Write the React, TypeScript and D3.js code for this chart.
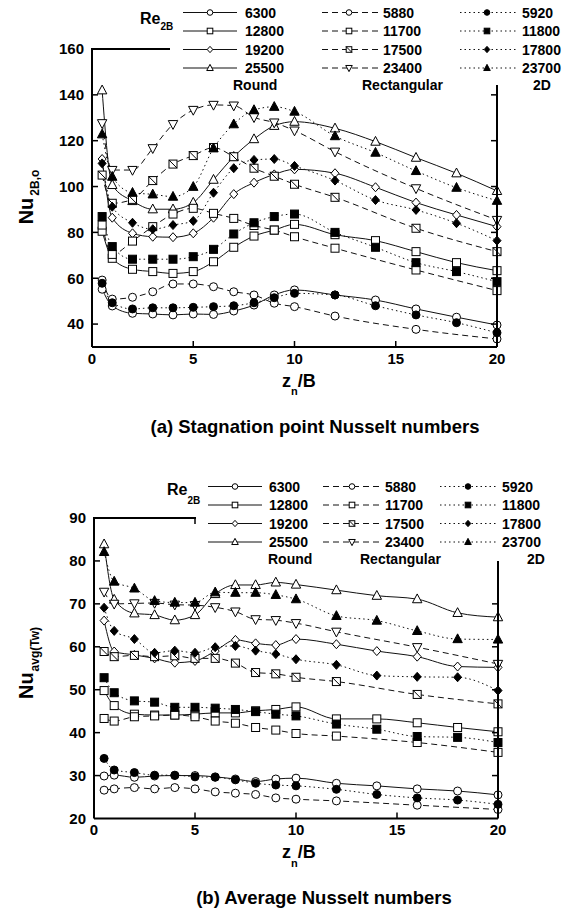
import React from 'react';
import * as d3 from 'd3';

const FONT = "'Liberation Sans', Arial, Helvetica, sans-serif";

// x positions of measurements (z_n/B)
const xRound = [0.5, 1, 2, 3, 4, 5, 6, 7, 8, 9, 10, 12, 14, 16, 18, 20];
const xRect = [0.5, 1, 2, 3, 4, 5, 6, 7, 8, 9, 10, 12, 16, 20];
const x2D = [0.5, 1, 2, 3, 4, 5, 6, 7, 8, 9, 10, 12, 14, 16, 18, 20];

// Legend labels
const roundRe = ['6300', '12800', '19200', '25500'];
const rectRe = ['5880', '11700', '17500', '23400'];
const twoDRe = ['5920', '11800', '17800', '23700'];

// (a) Stagnation point Nusselt numbers
const a_round6300 = [55.2, 47.9, 44.7, 44.4, 44.0, 44.4, 44.2, 45.7, 48.3, 52.7, 54.9, 52.7, 50.5, 46.6, 43.0, 39.6];
const a_round12800 = [80.5, 68.7, 63.9, 62.9, 62.1, 62.9, 67.2, 73.5, 78.4, 81.0, 83.5, 79.0, 76.4, 71.6, 66.8, 63.3];
const a_round19200 = [112, 86.4, 79.6, 78.1, 77.9, 79.6, 86.4, 96.7, 101.7, 105.3, 107.5, 105.8, 99.7, 93.0, 87.6, 82.5];
const a_round25500 = [142, 100.7, 93.7, 90.1, 90.1, 93, 103, 113, 120.7, 126.5, 128.3, 125.4, 119.6, 112.6, 105.8, 98.1];
const a_rect5880 = [59.2, 50.9, 51.7, 54.1, 57.5, 57.5, 56.3, 54.1, 52.7, 49.1, 47.6, 43.5, 37.7, 33.5];
const a_rect11700 = [83.2, 70.4, 76.2, 82.5, 88.0, 90.5, 88.3, 86.1, 83.0, 81.0, 78.1, 73.1, 63.6, 54.6];
const a_rect17500 = [105, 92.7, 94.4, 102.6, 109.8, 113.5, 117, 113, 108, 104.5, 101, 95.3, 81.8, 71.6];
const a_rect23400 = [127.6, 107.2, 107.2, 116.7, 127.2, 133.4, 135.6, 135.3, 130.2, 127.9, 124.4, 115.2, 99.2, 85.4];
const a_2d5920 = [57.8, 49.3, 46.6, 47.1, 47.1, 47.3, 47.6, 48.0, 49.3, 51.5, 53.4, 52.7, 48.0, 44.0, 40.6, 36.2];
const a_2d11800 = [86.9, 73.8, 68.3, 68.3, 68.3, 69.4, 72.6, 79.3, 84.2, 86.9, 88.0, 80.0, 73.5, 66.8, 62.9, 58.5];
const a_2d17800 = [110.1, 91.2, 84.2, 81.4, 83.2, 85.0, 97.3, 108, 111.6, 112, 109, 102.6, 94.1, 89.8, 84.0, 76.4];
const a_2d23700 = [122.8, 104.3, 97.3, 96.6, 95.6, 99.9, 116.7, 127.2, 133.4, 134.8, 132.7, 122, 114.8, 106.8, 99.5, 93.8];

// (b) Average Nusselt numbers
const b_round6300 = [29.9, 30.1, 29.6, 29.9, 30.0, 30.0, 29.7, 29.2, 28.6, 29.2, 29.4, 28.2, 27.6, 26.9, 26.4, 25.5];
const b_round12800 = [49.8, 46.3, 44.3, 44.1, 44.1, 44.3, 44.6, 44.6, 45.1, 45.4, 46.0, 43.2, 43.2, 42.3, 41.2, 40.2];
const b_round19200 = [66.1, 58.9, 58.1, 57.3, 56.3, 56.7, 59.0, 61.6, 60.8, 60.4, 61.8, 60.6, 59.0, 57.7, 55.4, 55.2];
const b_round25500 = [83.9, 71.0, 67.8, 67.4, 66.2, 67.4, 72.3, 74.4, 74.4, 75.0, 74.5, 73.2, 71.9, 71.1, 67.9, 66.9];
const b_rect5880 = [26.6, 26.9, 27.2, 26.9, 27.2, 26.9, 26.2, 25.9, 25.6, 24.8, 24.5, 24.1, 23.1, 22.1];
const b_rect11700 = [43.3, 42.7, 43.7, 43.9, 44.1, 43.7, 42.7, 42.2, 41.2, 40.6, 39.8, 39.2, 37.7, 35.4];
const b_rect17500 = [58.9, 57.7, 58.0, 57.7, 57.9, 57.3, 57.3, 56.2, 54.0, 53.7, 52.9, 51.9, 48.9, 46.7];
const b_rect23400 = [72.8, 70.0, 70.1, 70.2, 69.8, 69.7, 69.2, 68.2, 66.4, 66.2, 65.5, 63.5, 59.9, 56.0];
const b_2d5920 = [34.0, 31.3, 30.7, 30.1, 30.1, 29.7, 29.6, 29.0, 28.2, 27.8, 27.6, 26.8, 25.6, 24.8, 24.3, 23.3];
const b_2d11800 = [52.8, 49.3, 47.4, 47.1, 45.9, 45.9, 45.7, 45.4, 44.9, 44.3, 43.9, 42.0, 40.8, 39.1, 38.9, 37.7];
const b_2d17800 = [69.1, 63.7, 61.8, 58.6, 59.1, 58.6, 59.9, 60.2, 59.1, 58.3, 57.1, 55.8, 53.3, 53.0, 52.9, 49.8];
const b_2d23700 = [82.1, 75.2, 73.6, 70.7, 70.3, 70.3, 72.7, 72.6, 72.6, 72.1, 71.1, 67.2, 66.1, 63.7, 61.8, 61.7];

const aTicksY = [40, 60, 80, 100, 120, 140, 160];
const bTicksY = [20, 30, 40, 50, 60, 70, 80, 90];
const ticksX = [0, 5, 10, 15, 20];

const roundMarks = ['circle', 'square', 'diamond', 'triUp'];
const rectMarks = ['circle', 'square', 'squareX', 'triDown'];
const twoDMarks = ['circle', 'square', 'diamond', 'triUp'];

type Series = { xs: number[]; vals: number[]; style: string; mark: string; filled: boolean };

function buildSeries(round: number[][], rect: number[][], twoD: number[][]): Series[] {
  const out: Series[] = [];
  round.forEach((v, i) => out.push({ xs: xRound, vals: v, style: 'solid', mark: roundMarks[i], filled: false }));
  rect.forEach((v, i) => out.push({ xs: xRect, vals: v, style: 'dashed', mark: rectMarks[i], filled: false }));
  twoD.forEach((v, i) => out.push({ xs: x2D, vals: v, style: 'dotted', mark: twoDMarks[i], filled: true }));
  return out;
}

function Mark({ x, y, m, filled, s = 1 }: any) {
  const c = { fill: filled ? '#000' : '#fff', stroke: '#000', strokeWidth: 1 };
  switch (m) {
    case 'circle':
      return <circle cx={x} cy={y} r={4 * s} {...c} />;
    case 'square':
      return <rect x={x - 4 * s} y={y - 4 * s} width={8 * s} height={8 * s} {...c} />;
    case 'squareX':
      return (
        <g>
          <rect x={x - 4 * s} y={y - 4 * s} width={8 * s} height={8 * s} {...c} />
          <line x1={x - 4 * s} y1={y - 4 * s} x2={x + 4 * s} y2={y + 4 * s} stroke="#000" strokeWidth={1} />
        </g>
      );
    case 'diamond':
      return <path d={`M${x},${y - 4.5 * s}L${x + 4 * s},${y}L${x},${y + 4.5 * s}L${x - 4 * s},${y}Z`} {...c} />;
    case 'triUp':
      return <path d={`M${x},${y - 5.2 * s}L${x + 4.7 * s},${y + 3.6 * s}L${x - 4.7 * s},${y + 3.6 * s}Z`} {...c} />;
    case 'triDown':
      return <path d={`M${x},${y + 5.2 * s}L${x + 4.7 * s},${y - 3.6 * s}L${x - 4.7 * s},${y - 3.6 * s}Z`} {...c} />;
  }
  return null;
}

const dashOf = (st: string) => (st === 'dashed' ? '6,4' : st === 'dotted' ? '1.5,3' : undefined);

function Panel(p: any) {
  const x = d3.scaleLinear().domain([0, 20]).range(p.xr);
  const y = d3.scaleLinear().domain(p.yd).range(p.yr);
  const [X0, X1] = p.xr;
  const [Y0, YT] = p.yr;
  const line = d3
    .line<number[]>()
    .x((d) => x(d[0]))
    .y((d) => y(d[1]))
    .curve(d3.curveMonotoneX);
  const series: Series[] = p.series;
  const tickLen = 6;
  const lg = p.legend;
  const groups = [roundRe, rectRe, twoDRe];
  const styles = ['solid', 'dashed', 'dotted'];
  const marks = [roundMarks, rectMarks, twoDMarks];
  return (
    <g fontFamily={FONT} fontWeight="bold">
      {series.map((s, i) => (
        <path
          key={'l' + i}
          d={line(s.xs.map((xx, j) => [xx, s.vals[j]])) || ''}
          fill="none"
          stroke="#111"
          strokeWidth={1}
          strokeDasharray={dashOf(s.style)}
        />
      ))}
      {series.map((s, i) =>
        s.xs.map((xx, j) => <Mark key={'m' + i + '_' + j} x={x(xx)} y={y(s.vals[j])} m={s.mark} filled={s.filled} />)
      )}
      <line x1={X0} y1={Y0} x2={X1} y2={Y0} stroke="#000" strokeWidth={2} />
      <line x1={X0} y1={Y0} x2={X0} y2={YT} stroke="#000" strokeWidth={2} />
      <line x1={X0 - 1} y1={YT} x2={p.topEnd} y2={YT} stroke="#000" strokeWidth={2} />
      <line x1={X1} y1={Y0} x2={X1} y2={p.rightTop} stroke="#000" strokeWidth={2} />
      {p.yTicks.map((t: number) => (
        <g key={'yt' + t}>
          {y(t) < Y0 - 1 && y(t) > YT + 1 && (
            <line x1={X0} x2={X0 + tickLen} y1={y(t)} y2={y(t)} stroke="#000" strokeWidth={1.5} />
          )}
          {y(t) < Y0 - 1 && y(t) >= p.rightTop && (
            <line x1={X1} x2={X1 - tickLen} y1={y(t)} y2={y(t)} stroke="#000" strokeWidth={1.5} />
          )}
          <text x={X0 - 8} y={y(t) + 5.3} textAnchor="end" fontSize={15}>
            {t}
          </text>
        </g>
      ))}
      {ticksX.map((t) => (
        <g key={'xt' + t}>
          {t > 0 && t < 20 && <line x1={x(t)} x2={x(t)} y1={Y0} y2={Y0 - tickLen} stroke="#000" strokeWidth={1.5} />}
          {x(t) <= p.topEnd && t > 0 && (
            <line x1={x(t)} x2={x(t)} y1={YT} y2={YT + tickLen} stroke="#000" strokeWidth={1.5} />
          )}
          <text x={x(t)} y={Y0 + 16.5} textAnchor="middle" fontSize={15}>
            {t}
          </text>
        </g>
      ))}
      <text transform={`translate(${p.yLabX},${p.yLabY}) rotate(-90)`} textAnchor="middle">
        <tspan fontSize={20}>Nu</tspan>
        <tspan fontSize={12} dy={6} dx={p.subDx}>
          {p.yLabSub}
        </tspan>
      </text>
      <text x={282} y={Y0 + 39.5}>
        <tspan fontSize={18}>z</tspan>
        <tspan fontSize={11} dy={8.5}>
          n
        </tspan>
        <tspan fontSize={18} dy={-8.5}>
          /B
        </tspan>
      </text>
      <text x={p.titleX} y={Y0 + 85.5} textAnchor="middle" fontSize={18.5}>
        {p.title}
      </text>
      <text x={lg.reX} y={lg.reY}>
        <tspan fontSize={16}>Re</tspan>
        <tspan fontSize={10} dy={lg.reSub}>
          2B
        </tspan>
      </text>
      {groups.map((g, gi) =>
        g.map((lab, ri) => {
          const cy = lg.rows[ri];
          const col = lg.cols[gi];
          return (
            <g key={'lg' + gi + ri}>
              <line
                x1={col[0]}
                x2={col[1]}
                y1={cy}
                y2={cy}
                stroke="#111"
                strokeWidth={1}
                strokeDasharray={dashOf(styles[gi])}
              />
              <Mark x={col[2]} y={cy} m={marks[gi][ri]} filled={gi === 2} s={0.7} />
              <text x={col[3]} y={cy + 5} fontSize={14}>
                {lab}
              </text>
            </g>
          );
        })
      )}
      <text x={lg.grpX[0]} y={lg.grpY} fontSize={14}>
        Round
      </text>
      <text x={lg.grpX[1]} y={lg.grpY} fontSize={14}>
        Rectangular
      </text>
      <text x={lg.grpX[2]} y={lg.grpY} fontSize={14}>
        2D
      </text>
    </g>
  );
}

export default function App() {
  const seriesA = buildSeries(
    [a_round6300, a_round12800, a_round19200, a_round25500],
    [a_rect5880, a_rect11700, a_rect17500, a_rect23400],
    [a_2d5920, a_2d11800, a_2d17800, a_2d23700]
  );
  const seriesB = buildSeries(
    [b_round6300, b_round12800, b_round19200, b_round25500],
    [b_rect5880, b_rect11700, b_rect17500, b_rect23400],
    [b_2d5920, b_2d11800, b_2d17800, b_2d23700]
  );
  return (
    <svg
      width={568}
      height={910}
      viewBox="0 0 568 910"
      style={{ position: 'absolute', left: 0, top: 0, background: '#fff' }}
    >
      <rect x={0} y={0} width={568} height={910} fill="#fff" />
      <Panel
        xr={[92, 497]}
        yd={[30, 160]}
        yr={[347, 49]}
        yTicks={aTicksY}
        topEnd={170}
        rightTop={85}
        series={seriesA}
        yLabX={33}
        yLabY={197}
        yLabSub="2B,o"
        subDx={2}
        titleX={315}
        title="(a) Stagnation point Nusselt numbers"
        legend={{
          reX: 140,
          reY: 23.5,
          reSub: 6.5,
          rows: [12.5, 31, 49.5, 68],
          cols: [
            [183, 237, 210, 245],
            [322, 378, 349, 383],
            [460, 517, 487, 522],
          ],
          grpX: [233, 362, 533],
          grpY: 89.5,
        }}
      />
      <Panel
        xr={[94, 498]}
        yd={[20, 90]}
        yr={[818.5, 518]}
        yTicks={bTicksY}
        topEnd={196}
        rightTop={561}
        series={seriesB}
        yLabX={33}
        yLabY={663}
        yLabSub="avg(Tw)"
        subDx={1}
        titleX={324}
        title="(b) Average Nusselt numbers"
        legend={{
          reX: 167,
          reY: 495,
          reSub: 8.5,
          rows: [486.5, 505, 523.5, 542],
          cols: [
            [208, 262, 235, 269],
            [323, 380, 352, 385],
            [440, 497, 468, 502],
          ],
          grpX: [268, 360, 527],
          grpY: 564,
        }}
      />
    </svg>
  );
}
